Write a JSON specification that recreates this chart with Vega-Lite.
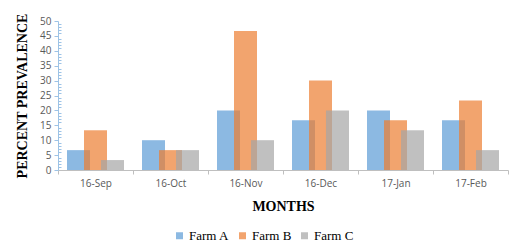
{
  "$schema": "https://vega.github.io/schema/vega-lite/v6.json",
  "width": 450,
  "height": 149,
  "autosize": {"type": "none"},
  "padding": {"left": 58, "top": 21, "right": 8, "bottom": 79},
  "background": "white",
  "config": {"view": {"stroke": null}},
  "data": {
    "values": [
      {"month": "16-Sep", "farm": "Farm A", "value": 6.67},
      {"month": "16-Sep", "farm": "Farm B", "value": 13.33},
      {"month": "16-Sep", "farm": "Farm C", "value": 3.33},
      {"month": "16-Oct", "farm": "Farm A", "value": 10},
      {"month": "16-Oct", "farm": "Farm B", "value": 6.67},
      {"month": "16-Oct", "farm": "Farm C", "value": 6.67},
      {"month": "16-Nov", "farm": "Farm A", "value": 20},
      {"month": "16-Nov", "farm": "Farm B", "value": 46.67},
      {"month": "16-Nov", "farm": "Farm C", "value": 10},
      {"month": "16-Dec", "farm": "Farm A", "value": 16.67},
      {"month": "16-Dec", "farm": "Farm B", "value": 30},
      {"month": "16-Dec", "farm": "Farm C", "value": 20},
      {"month": "17-Jan", "farm": "Farm A", "value": 20},
      {"month": "17-Jan", "farm": "Farm B", "value": 16.67},
      {"month": "17-Jan", "farm": "Farm C", "value": 13.33},
      {"month": "17-Feb", "farm": "Farm A", "value": 16.67},
      {"month": "17-Feb", "farm": "Farm B", "value": 23.33},
      {"month": "17-Feb", "farm": "Farm C", "value": 6.67}
    ]
  },
  "mark": {"type": "bar", "width": 23, "opacity": 0.7},
  "encoding": {
    "x": {
      "field": "month",
      "type": "nominal",
      "sort": ["16-Sep", "16-Oct", "16-Nov", "16-Dec", "17-Jan", "17-Feb"],
      "scale": {"paddingInner": 0, "paddingOuter": 0},
      "axis": {
        "title": "MONTHS",
        "titleFont": "Liberation Serif",
        "titleFontSize": 14,
        "titleFontWeight": "bold",
        "titleColor": "black",
        "titlePadding": 11,
        "labelAngle": 0,
        "labelFont": "Open Sans",
        "labelFontSize": 10,
        "labelColor": "#595959",
        "labelPadding": 4,
        "tickBand": "extent",
        "tickColor": "#BFBFBF",
        "tickSize": 4,
        "domainColor": "#BFBFBF",
        "domainWidth": 1
      }
    },
    "xOffset": {
      "field": "farm",
      "type": "nominal",
      "scale": {"paddingInner": 0, "paddingOuter": 0.706}
    },
    "y": {
      "field": "value",
      "type": "quantitative",
      "scale": {"domain": [0, 50], "nice": false},
      "axis": {
        "title": "PERCENT PREVALENCE",
        "titleFont": "Liberation Serif",
        "titleFontSize": 14,
        "titleFontWeight": "bold",
        "titleColor": "black",
        "titlePadding": 10,
        "values": [0,1,2,3,4,5,6,7,8,9,10,11,12,13,14,15,16,17,18,19,20,21,22,23,24,25,26,27,28,29,30,31,32,33,34,35,36,37,38,39,40,41,42,43,44,45,46,47,48,49,50],
        "labelExpr": "datum.value % 5 === 0 ? datum.label : ''",
        "labelFont": "Open Sans",
        "labelFontSize": 10,
        "labelColor": "#595959",
        "labelPadding": 3,
        "grid": false,
        "domainColor": "#9DC3E6",
        "tickColor": "#9DC3E6",
        "tickSize": {"condition": {"test": "datum.value % 5 === 0", "value": 4}, "value": -3}
      }
    },
    "color": {
      "field": "farm",
      "type": "nominal",
      "scale": {"domain": ["Farm A", "Farm B", "Farm C"], "range": ["#5B9BD5", "#ED7D31", "#A5A5A5"]},
      "legend": {
        "title": null,
        "orient": "none",
        "direction": "horizontal",
        "legendX": 115,
        "legendY": 208,
        "symbolType": "square",
        "symbolSize": 49,
        "symbolOpacity": 0.7,
        "symbolStrokeWidth": 0,
        "labelFont": "Liberation Serif",
        "labelFontSize": 13,
        "labelColor": "black",
        "columnPadding": 6,
        "labelOffset": 3
      }
    }
  }
}
